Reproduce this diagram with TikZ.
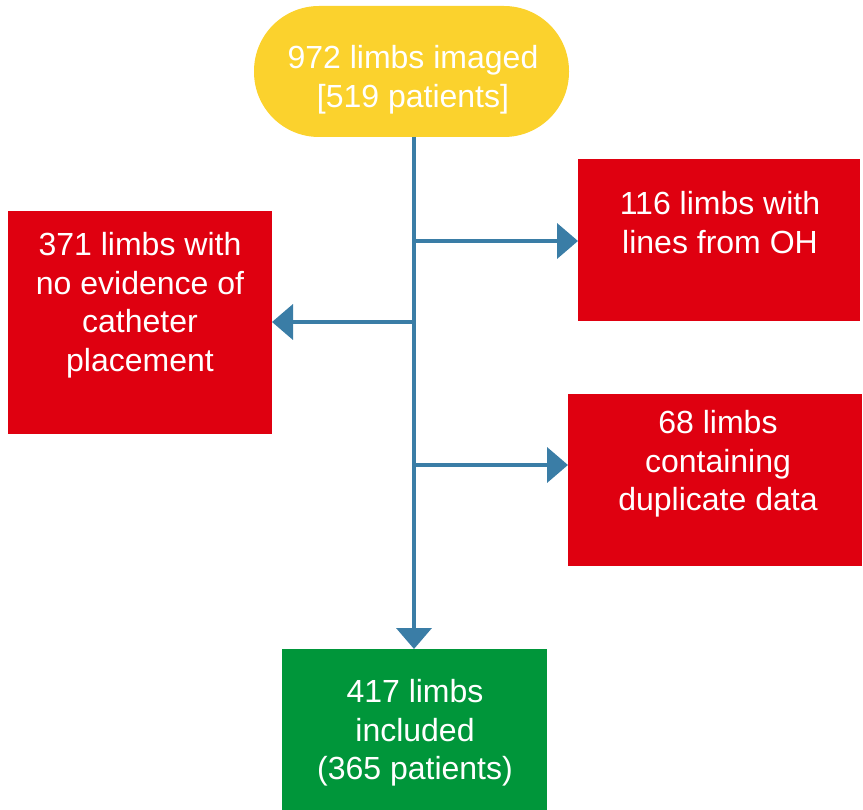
\documentclass[tikz,border=0pt]{standalone}
\usepackage{fontspec}
\setmainfont{Liberation Sans}
\usetikzlibrary{arrows.meta}
\definecolor{cyel}{HTML}{FBD22D}
\definecolor{cred}{HTML}{DF0010}
\definecolor{cgrn}{HTML}{00963A}
\definecolor{cline}{HTML}{3A7DA6}
\tikzset{
  boxshape/.style={inner sep=0pt, outer sep=0pt, draw=none},
  boxtext/.style={text=white, align=center, font=\fontsize{32}{38.7}\selectfont, inner sep=0pt},
  conn/.style={draw=cline, line width=4pt},
  arr/.style={conn, -{Triangle[width=35pt,length=21pt]}}
}
\begin{document}
\begin{tikzpicture}[x=1pt,y=-1pt]
\useasboundingbox (0,0) rectangle (863,810);
% boxes
\fill[cyel, rounded corners=65pt] (254,6) rectangle (569,137);
\node[boxshape, minimum width=315pt, minimum height=131pt] (top) at (411.5,71.5) {};
\fill[cred] (8,211) rectangle (272,434);
\node[boxshape, minimum width=264pt, minimum height=223pt] (left) at (140,322.5) {};
\fill[cred] (578,159) rectangle (860,321);
\node[boxshape, minimum width=282pt, minimum height=162pt] (rtop) at (719,240) {};
\fill[cred] (568,394) rectangle (862,566);
\node[boxshape, minimum width=294pt, minimum height=172pt] (rmid) at (715,480) {};
\fill[cgrn] (282,649) rectangle (547,812);
\node[boxshape, minimum width=265pt, minimum height=163pt] (bot) at (414.5,730.5) {};
% texts
\node[boxtext] (ttop) at (413,80) {972 limbs imaged\\{}[519 patients]};
\node[boxtext, anchor=north] (tleft) at (140,232) {371 limbs with\\no evidence of\\catheter\\placement};
\node[boxtext, anchor=north] (trtop) at (720,191) {116 limbs with\\lines from OH};
\node[boxtext, anchor=north] (trmid) at (718,410) {68 limbs\\containing\\duplicate data};
\node[boxtext, anchor=north] (tbot) at (415,679) {417 limbs\\included\\(365 patients)};
% connectors
\coordinate (b1) at (414,241);
\coordinate (b2) at (414,322);
\coordinate (b3) at (414,465);
\draw[arr] (top.south -| b1) -- (b1 |- bot.north);
\draw[arr] (b1) -- (b1 -| rtop.west);
\draw[arr] (b2) -- (b2 -| left.east);
\draw[arr] (b3) -- (b3 -| rmid.west);
\end{tikzpicture}
\end{document}
